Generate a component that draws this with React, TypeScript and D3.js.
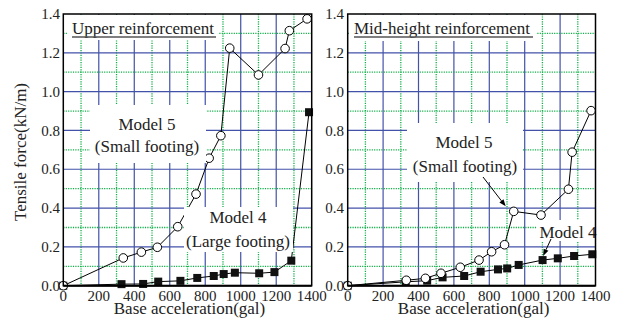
import React from 'react';
import * as d3 from 'd3';

const xTicks = [0, 200, 400, 600, 800, 1000, 1200, 1400];
const yTicks = [0, 0.2, 0.4, 0.6, 0.8, 1.0, 1.2, 1.4];

// Upper reinforcement
const upperM5X = [0, 338, 440, 530, 645, 748, 822, 888, 938, 1100, 1250, 1274, 1374];
const upperM5Y = [0, 0.143, 0.173, 0.198, 0.304, 0.472, 0.657, 0.773, 1.224, 1.086, 1.222, 1.314, 1.375];
const upperM4X = [0, 328, 450, 535, 660, 755, 848, 904, 967, 1104, 1190, 1285, 1385];
const upperM4Y = [0, 0.008, 0.009, 0.021, 0.025, 0.04, 0.05, 0.06, 0.067, 0.064, 0.07, 0.129, 0.894];

// Mid-height reinforcement
const midM5X = [0, 331, 439, 527, 636, 742, 813, 886, 938, 1092, 1247, 1268, 1375];
const midM5Y = [0, 0.028, 0.038, 0.064, 0.095, 0.132, 0.175, 0.211, 0.383, 0.364, 0.497, 0.688, 0.902];
const midM4X = [0, 328, 449, 536, 658, 751, 849, 901, 966, 1101, 1187, 1279, 1382];
const midM4Y = [0, 0.02, 0.026, 0.043, 0.05, 0.072, 0.084, 0.089, 0.107, 0.132, 0.141, 0.153, 0.162];

const BLUE = '#4252a8';
const GREEN = '#10b048';
const Y0 = 285.7;
const Y1 = 14;

const yScale = d3.scaleLinear().domain([0, 1.4]).range([Y0, Y1]);

function T({ x, y, size, anchor, transform, children }: any) {
  return (
    <text x={x} y={y} transform={transform} fontFamily="Liberation Serif" fontSize={size}
      style={{ fontFamily: 'Liberation Serif', fontSize: size + 'px' }}
      textAnchor={anchor || 'start'} fill="#222">{children}</text>
  );
}

function Grid({ x }: { x: d3.ScaleLinear<number, number> }) {
  const [xa, xb] = x.range();
  return (
    <g>
      {d3.range(1, 14).map((i) => {
        const major = i % 2 === 0;
        const v = x(i * 100);
        return (
          <line key={'v' + i} x1={v} x2={v} y1={Y1} y2={Y0}
            stroke={major ? BLUE : GREEN} strokeWidth={major ? 1.2 : 1.3}
            strokeDasharray={major ? undefined : '1.2 1.2'} />
        );
      })}
      {d3.range(1, 14).map((i) => {
        const major = i % 2 === 0;
        const v = yScale(i / 10);
        return (
          <line key={'h' + i} x1={xa} x2={xb} y1={v} y2={v}
            stroke={major ? BLUE : GREEN} strokeWidth={major ? 1.2 : 1.3}
            strokeDasharray={major ? undefined : '1.2 1.2'} />
        );
      })}
    </g>
  );
}

function Series({ x, m5x, m5y, m4x, m4y }: any) {
  const line = d3.line<[number, number]>().x((d) => x(d[0])).y((d) => yScale(d[1]));
  const p5: [number, number][] = m5x.map((v: number, i: number) => [v, m5y[i]]);
  const p4: [number, number][] = m4x.map((v: number, i: number) => [v, m4y[i]]);
  return (
    <g>
      <path d={line(p4) || ''} fill="none" stroke="#000" strokeWidth={1} />
      <path d={line(p5) || ''} fill="none" stroke="#000" strokeWidth={1} />
      {p4.map((d, i) => (
        <rect key={'s' + i} x={x(d[0]) - 4} y={yScale(d[1]) - 4} width={8} height={8} fill="#111" />
      ))}
      {p5.map((d, i) => (
        <circle key={'c' + i} cx={x(d[0])} cy={yScale(d[1])} r={4.3} fill="#fff" stroke="#000" strokeWidth={1} />
      ))}
    </g>
  );
}

function Axes({ x, labelRight }: { x: d3.ScaleLinear<number, number>; labelRight: number }) {
  const [xa, xb] = x.range();
  return (
    <g>
      <rect x={xa} y={Y1} width={xb - xa} height={Y0 - Y1} fill="none" stroke="#000" strokeWidth={1.5} />
      <line x1={xa} x2={xb} y1={Y0} y2={Y0} stroke="#000" strokeWidth={2} />
      {xTicks.map((t) => (
        <T key={'xt' + t} x={x(t)} y={301} size={15} anchor="middle">{String(t)}</T>
      ))}
      {yTicks.map((t) => (
        <T key={'yt' + t} x={labelRight} y={yScale(t) + 5.2} size={15} anchor="end">{t.toFixed(1)}</T>
      ))}
      <T x={(xa + xb) / 2 + 2} y={314} size={17} anchor="middle">Base acceleration(gal)</T>
    </g>
  );
}

function Arrow({ x1, y1, x2, y2 }: { x1: number; y1: number; x2: number; y2: number }) {
  const a = Math.atan2(y2 - y1, x2 - x1);
  const L = 7, W = 2.6;
  const bx = x2 - L * Math.cos(a), by = y2 - L * Math.sin(a);
  const px = -Math.sin(a) * W, py = Math.cos(a) * W;
  return (
    <g>
      <line x1={x1} y1={y1} x2={bx} y2={by} stroke="#000" strokeWidth={1} />
      <path d={`M${x2},${y2}L${bx + px},${by + py}L${bx - px},${by - py}Z`} fill="#000" />
    </g>
  );
}

export default function App() {
  const xL = d3.scaleLinear().domain([0, 1400]).range([63.3, 311.7]);
  const xR = d3.scaleLinear().domain([0, 1400]).range([347.7, 595.5]);
  const t5x = xR(midM5X[8]);
  const t5y = yScale(midM5Y[8]);
  const t4x = xR(midM4X[9]);
  const t4y = yScale(midM4Y[9]);
  return (
    <svg width={618} height={329} style={{ position: 'absolute', left: 0, top: 0, fontFamily: 'Liberation Serif' }}>
      <style>{`text { font-family: 'Liberation Serif'; }`}</style>
      <rect x={0} y={0} width={618} height={329} fill="#fff" />
      {/* Left panel */}
      <Grid x={xL} />
      <Series x={xL} m5x={upperM5X} m5y={upperM5Y} m4x={upperM4X} m4y={upperM4Y} />
      <g>
        <rect x={68} y={Y1 + 1} width={151} height={25} fill="#fff" />
        <T x={72} y={33.5} size={17}>Upper reinforcement</T>
        <line x1={72} x2={216} y1={37} y2={37} stroke="#555" strokeWidth={1.5} />
        <rect x={90} y={105} width={116} height={58} fill="#fff" />
        <T x={147} y={130} size={17} anchor="middle">Model 5</T>
        <T x={147} y={152} size={17} anchor="middle">(Small footing)</T>
        <rect x={184} y={207} width={109} height={45} fill="#fff" />
        <T x={238} y={223} size={17} anchor="middle">Model 4</T>
        <T x={238} y={246.5} size={17} anchor="middle">(Large footing)</T>
      </g>
      <Axes x={xL} labelRight={60} />
      {/* Right panel */}
      <Grid x={xR} />
      <Series x={xR} m5x={midM5X} m5y={midM5Y} m4x={midM4X} m4y={midM4Y} />
      <g>
        <rect x={350} y={Y1 + 1} width={186} height={26} fill="#fff" />
        <T x={354} y={33.5} size={17}>Mid-height reinforcement</T>
        <line x1={354} x2={533} y1={37} y2={37} stroke="#555" strokeWidth={1.5} />
        <rect x={407} y={123} width={116} height={59} fill="#fff" />
        <T x={464} y={147.5} size={17} anchor="middle">Model 5</T>
        <T x={465} y={172} size={17} anchor="middle">(Small footing)</T>
        <rect x={537} y={220} width={58} height={21} fill="#fff" />
        <T x={568} y={237.5} size={17} anchor="middle">Model 4</T>
      </g>
      <Arrow x1={483} y1={177} x2={t5x - 8} y2={t5y - 5} />
      <Arrow x1={551} y1={239} x2={t4x + 0.5} y2={t4y - 4} />
      <Axes x={xR} labelRight={344} />
      <T transform="translate(26,152) rotate(-90)" x={0} y={0} size={17} anchor="middle">Tensile force(kN/m)</T>
    </svg>
  );
}
